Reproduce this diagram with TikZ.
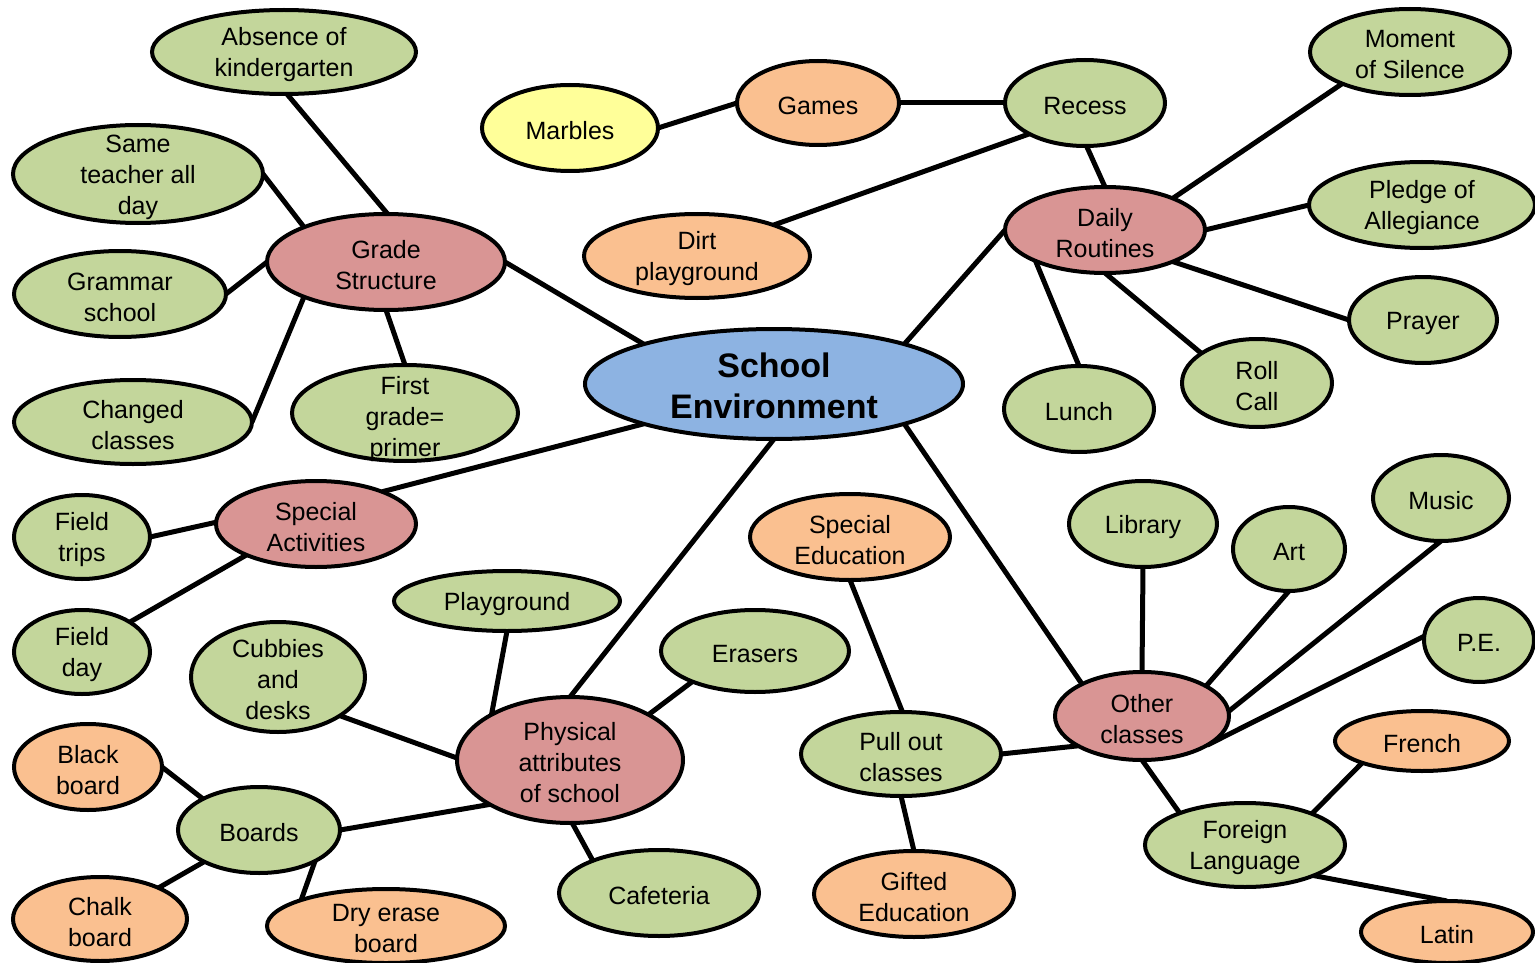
\documentclass[tikz,border=0pt]{standalone}
\usepackage{fontspec}
\setmainfont{Liberation Sans}
\usetikzlibrary{shapes.geometric,backgrounds}

\definecolor{leafgreen}{HTML}{C3D69B}
\definecolor{branchpink}{HTML}{D99594}
\definecolor{extraorange}{HTML}{FAC090}
\definecolor{marbleyellow}{HTML}{FFFF99}
\definecolor{hubblue}{HTML}{8DB3E2}

\tikzset{
  bubble/.style={ellipse, draw=black, line width=4pt, inner sep=0pt, outer sep=0pt},
  leafnode/.style={bubble, fill=leafgreen},
  branchnode/.style={bubble, fill=branchpink},
  extranode/.style={bubble, fill=extraorange},
  marblenode/.style={bubble, fill=marbleyellow},
  hubnode/.style={bubble, fill=hubblue},
  txt/.style={align=center, inner sep=0pt, yshift=-3pt, font=\fontsize{25}{31}\selectfont},
  hubtxt/.style={align=center, inner sep=0pt, yshift=-2pt, font=\fontsize{34}{41}\selectfont\bfseries},
  link/.style={line width=5pt, draw=black}
}

% \bub{name}{x}{y}{x radius}{y radius}{style}{text}
\newcommand\bub[7]{%
  \node[#6, minimum width={2*#4-4}, minimum height={2*#5-4}] (#1) at (#2,#3) {};
  \node[txt] (#1-t) at (#1.center) {#7};}

\begin{document}
\begin{tikzpicture}[x=1pt,y=-1pt]
\useasboundingbox (0,0) rectangle (1535,963);
\clip (0,0) rectangle (1535,963);

% centre
\node[hubnode, minimum width=378, minimum height=110] (school) at (774,384) {};
\node[hubtxt] (school-t) at (school.center) {School\\Environment};

% grade structure branch
\bub{grade}{386}{262}{121}{50}{branchnode}{Grade\\Structure}
\bub{abs}{284}{52}{134}{44}{leafnode}{Absence of\\kindergarten}
\bub{same}{138}{174}{127}{51}{leafnode}{Same\\teacher all\\day}
\bub{gram}{120}{294}{108}{45}{leafnode}{Grammar\\school}
\bub{chg}{133}{422}{121}{44}{leafnode}{Changed\\classes}
\bub{first}{405}{413}{115}{50}{leafnode}{}
\node[txt, yshift=-3pt] (first-t) at (first.center) {First\\grade=\\primer};

% recess and daily routines
\bub{marb}{570}{128}{90}{45}{marblenode}{Marbles}
\bub{games}{818}{103}{83}{44}{extranode}{Games}
\bub{recess}{1085}{103}{82}{45}{leafnode}{Recess}
\bub{dirt}{697}{256}{115}{44}{extranode}{Dirt\\playground}
\bub{daily}{1105}{230}{102}{45}{branchnode}{Daily\\Routines}
\bub{moment}{1410}{52}{102}{45}{leafnode}{Moment\\of Silence}
\bub{pledge}{1422}{205}{115}{45}{leafnode}{Pledge of\\Allegiance}
\bub{prayer}{1423}{320}{76}{45}{leafnode}{Prayer}
\bub{roll}{1257}{383}{77}{46}{leafnode}{Roll\\Call}
\bub{lunch}{1079}{409}{77}{45}{leafnode}{Lunch}

% special activities
\bub{spact}{316}{524}{102}{45}{branchnode}{Special\\Activities}
\bub{ftrips}{82}{537}{70}{44}{leafnode}{Field\\trips}
\bub{fday}{82}{652}{70}{44}{leafnode}{Field\\day}

% physical attributes
\bub{phys}{570}{760}{115}{65}{branchnode}{Physical\\attributes\\of school}
\bub{play}{507}{601}{115}{32}{leafnode}{Playground}
\bub{cubb}{278}{677}{89}{57}{leafnode}{Cubbies\\and\\desks}
\bub{eras}{755}{651}{96}{43}{leafnode}{Erasers}
\bub{cafe}{659}{893}{102}{45}{leafnode}{Cafeteria}
\bub{boards}{259}{830}{83}{45}{leafnode}{Boards}
\bub{black}{88}{767}{76}{45}{extranode}{Black\\board}
\bub{chalk}{100}{919}{89}{44}{extranode}{Chalk\\board}
\bub{dry}{386}{926}{121}{39}{extranode}{Dry erase\\board}

% other classes
\bub{sped}{850}{537}{102}{45}{extranode}{Special\\Education}
\bub{pull}{901}{754}{102}{44}{leafnode}{Pull out\\classes}
\bub{gifted}{914}{894}{102}{45}{extranode}{Gifted\\Education}
\bub{other}{1142}{716}{89}{46}{branchnode}{Other\\classes}
\bub{lib}{1143}{524}{76}{45}{leafnode}{Library}
\bub{art}{1289}{549}{58}{44}{leafnode}{Art}
\bub{music}{1441}{498}{70}{45}{leafnode}{Music}
\bub{pe}{1479}{640}{57}{44}{leafnode}{P.E.}
\bub{foreign}{1245}{845}{102}{44}{leafnode}{Foreign\\Language}
\bub{french}{1422}{741}{89}{32}{extranode}{French}
\bub{latin}{1447}{932}{88}{33}{extranode}{Latin}

% connectors
\begin{scope}[on background layer]
\draw[link] (grade.88) -- (abs.-86);
\draw[link] (grade.157) -- (same.0);
\draw[link] (grade.180) -- (gram.0);
\draw[link] (grade.-157) -- (chg.0);
\draw[link] (grade.-90) -- (first.90);
\draw[link] (grade.0) -- (school.163);
\draw[link] (marb.0) -- (games.180);
\draw[link] (games.0) -- (recess.180);
\draw[link] (recess.-151) -- (dirt.22);
\draw[link] (recess.-88) -- (daily.90);
\draw[link] (daily.180) -- (school.17);
\draw[link] (daily.25) -- (moment.-155);
\draw[link] (daily.0) -- (pledge.180);
\draw[link] (daily.-25) -- (prayer.180);
\draw[link] (daily.-90) -- (roll.152);
\draw[link] (daily.-156) -- (lunch.90);
\draw[link] (school.-163) -- (spact.26);
\draw[link] (spact.179) -- (ftrips.0);
\draw[link] (spact.-156) -- (fday.32);
\draw[link] (school.-90) -- (phys.90);
\draw[link] (school.-17) -- (other.152);
\draw[link] (phys.150) -- (play.-90);
\draw[link] (phys.179) -- (cubb.-32);
\draw[link] (phys.30) -- (eras.-154);
\draw[link] (phys.-151) -- (boards.0);
\draw[link] (phys.-88) -- (cafe.154);
\draw[link] (boards.151) -- (black.0);
\draw[link] (boards.-150) -- (chalk.28);
\draw[link] (boards.-29) -- (dry.163);
\draw[link] (sped.-90) -- (pull.88);
\draw[link] (pull.0) -- (other.-155);
\draw[link] (pull.-90) -- (gifted.90);
\draw[link] (other.90) -- (lib.-90);
\draw[link] (other.25) -- (art.-90);
\draw[link] (other.3) -- (music.-90);
\draw[link] (other.-24) -- (pe.176);
\draw[link] (other.-90) -- (foreign.154);
\draw[link] (foreign.25) -- (french.-160);
\draw[link] (foreign.-24) -- (latin.90);
\end{scope}
\end{tikzpicture}
\end{document}
